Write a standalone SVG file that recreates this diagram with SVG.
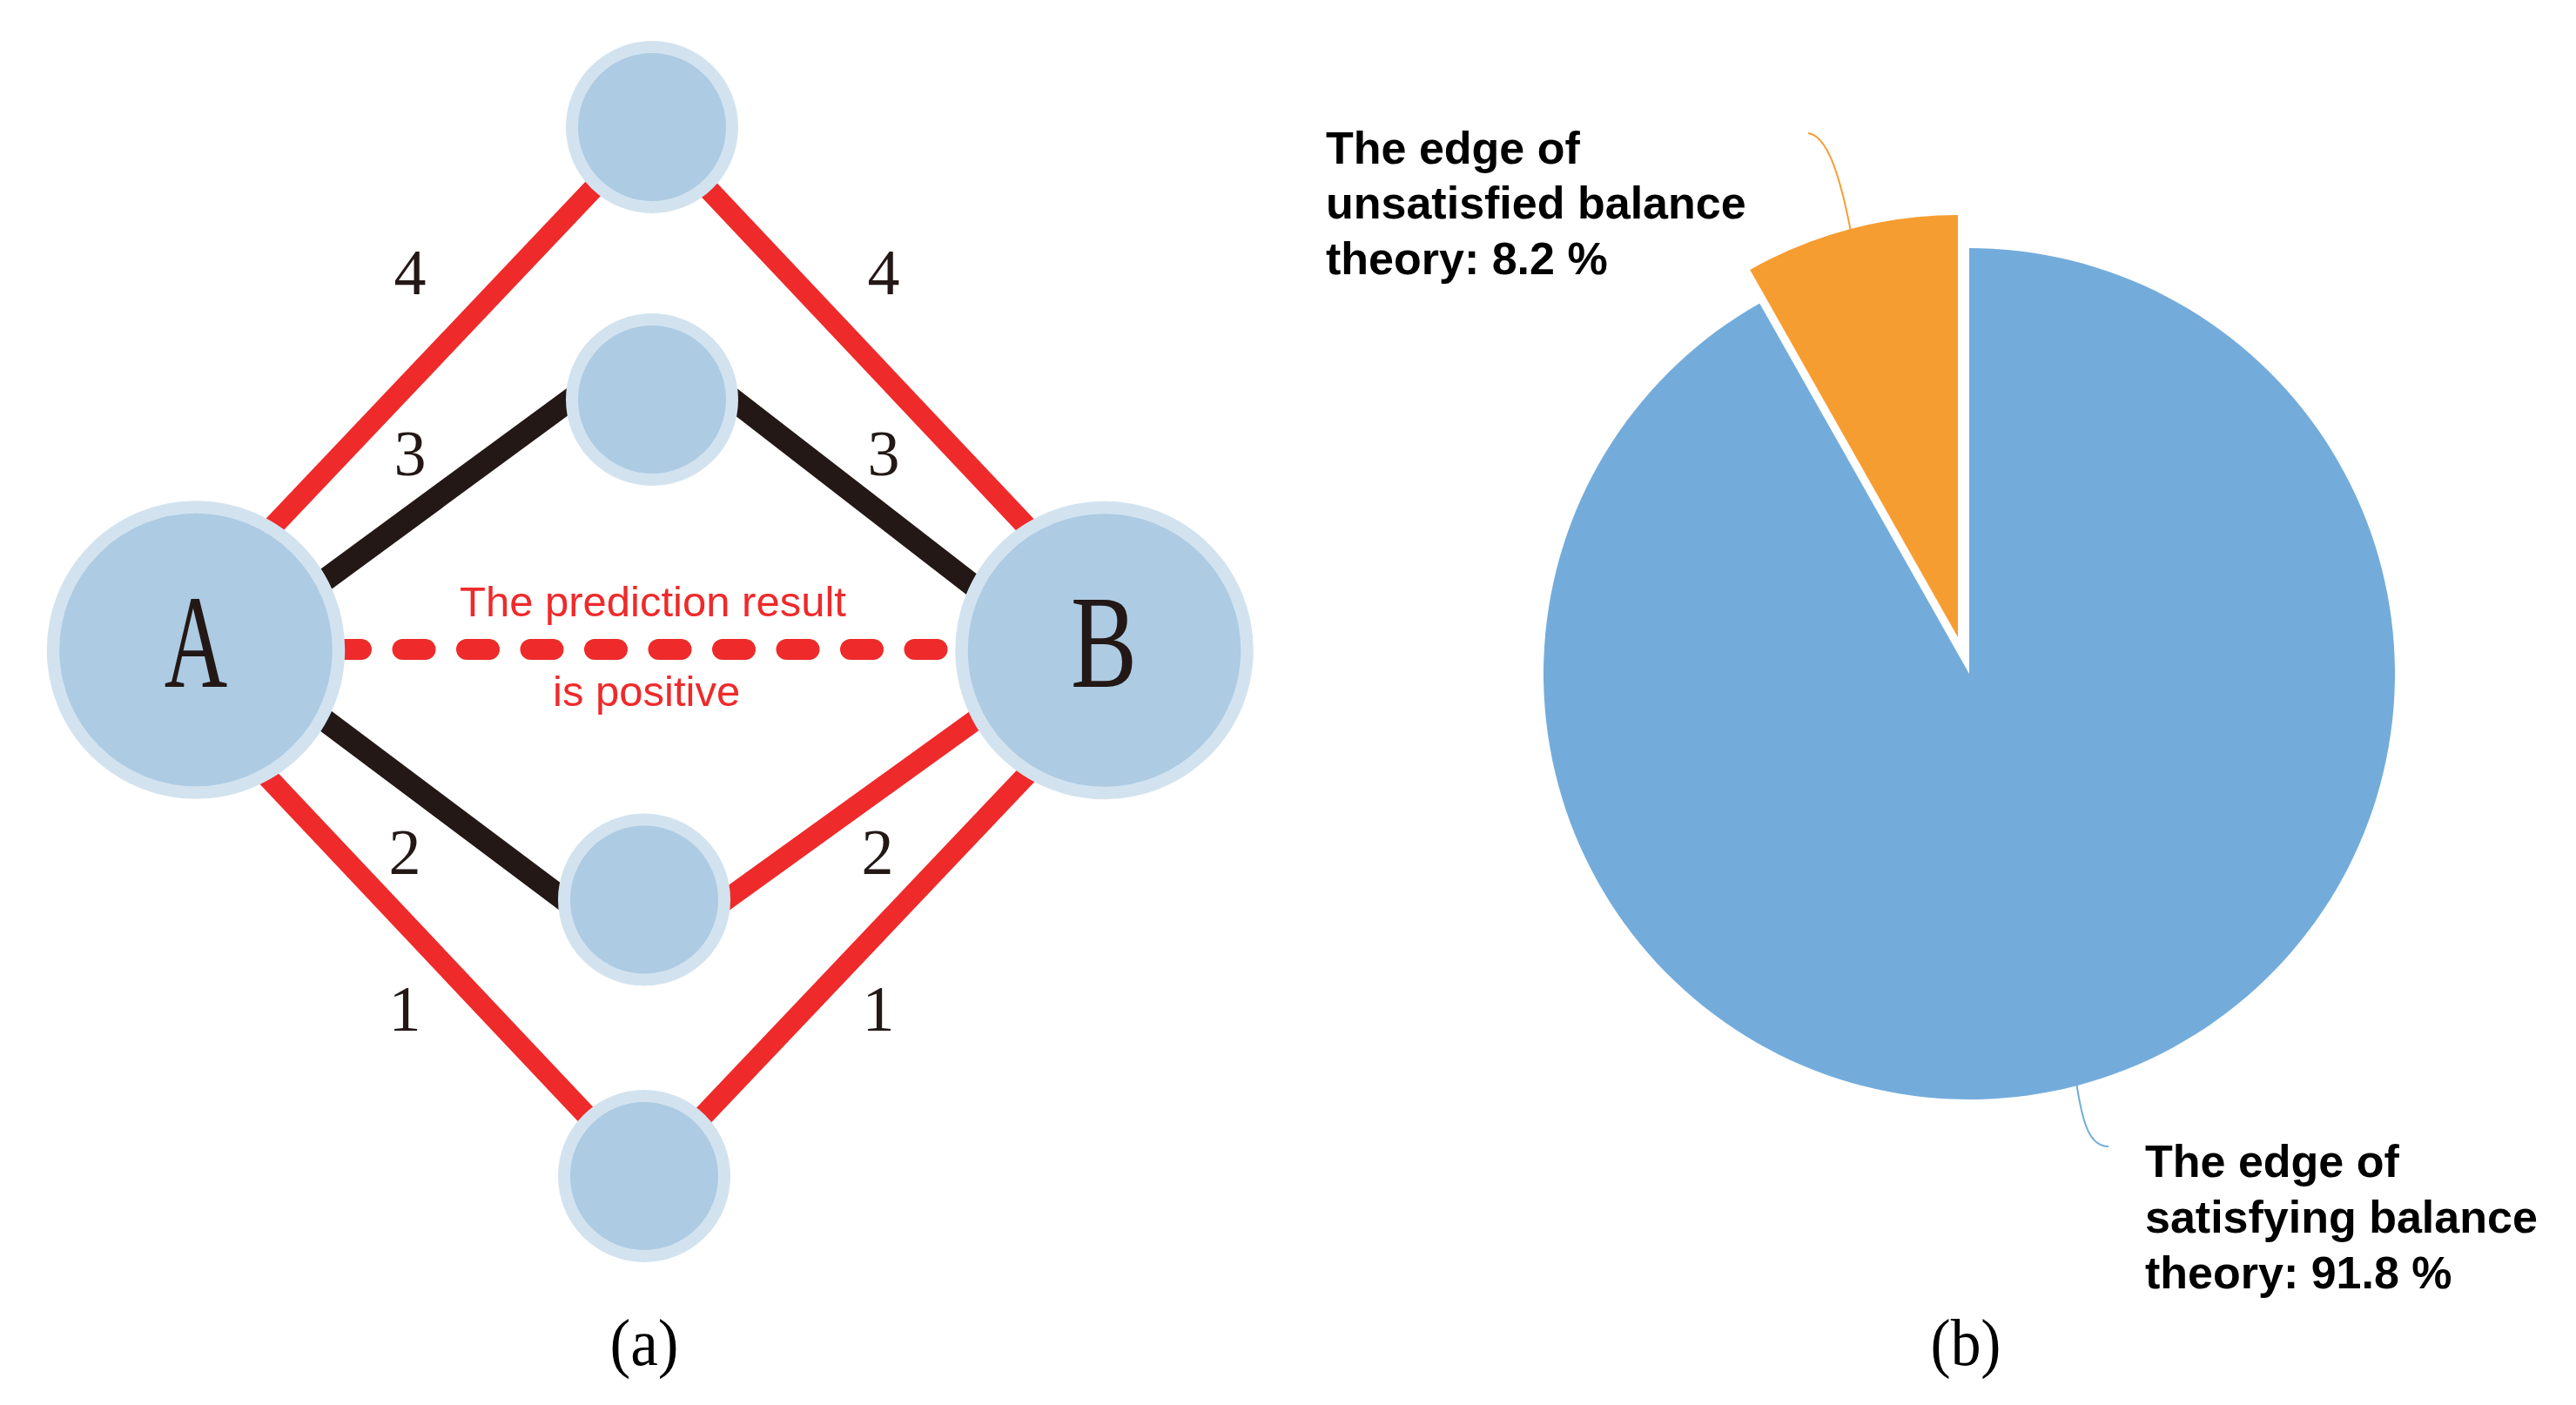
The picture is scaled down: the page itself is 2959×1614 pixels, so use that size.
<svg xmlns="http://www.w3.org/2000/svg" width="2959" height="1614" viewBox="0 0 2959 1614">
<style>
.red{stroke:#EE2A2B;stroke-width:24;fill:none}
.blk{stroke:#231815;stroke-width:26;fill:none}
.dash{stroke:#EE2A2B;stroke-width:24;fill:none;stroke-linecap:round;stroke-dasharray:26 47.5}
.big{fill:#ADCBE2;stroke:#D2E3EF;stroke-width:14.5}
.small{fill:#ADCBE2;stroke:#D2E3EF;stroke-width:14}
.letter{font-family:"Liberation Serif","Times New Roman",serif;font-size:152px;fill:#231815;text-anchor:middle}
.num{font-family:"Liberation Serif","Times New Roman",serif;font-size:74px;fill:#231815;text-anchor:middle}
.cap{font-family:"Liberation Serif","Times New Roman",serif;font-size:76px;fill:#000;text-anchor:middle}
.rtxt{font-family:"Liberation Sans",Arial,sans-serif;font-size:49px;fill:#EE2A2B}
.lbl{font-family:"Liberation Sans",Arial,sans-serif;font-size:52px;font-weight:bold;fill:#000}
</style>
<rect width="2959" height="1614" fill="#fff"/>
<g id="connectors">
<line class="red" x1="299" y1="620" x2="706.7" y2="190"/>
<line class="red" x1="788" y1="190" x2="1193.6" y2="620"/>
<line class="red" x1="295.4" y1="880" x2="701" y2="1310"/>
<line class="red" x1="1189" y1="880" x2="781" y2="1310"/>
<line class="blk" x1="300" y1="720" x2="720" y2="411.5"/>
<line class="blk" x1="780" y1="411" x2="1190" y2="728.5"/>
<line class="blk" x1="300" y1="772.5" x2="720" y2="1087.5"/>
<line class="red" x1="760" y1="1087" x2="1190" y2="777"/>
<path class="dash" d="M389,746 H1100"/>
</g>
<g id="edge-labels">
<text class="num" x="471" y="338">4</text>
<text class="num" x="1015" y="338">4</text>
<text class="num" x="471" y="546">3</text>
<text class="num" x="1015" y="546">3</text>
<text class="num" x="465" y="1004">2</text>
<text class="num" x="1008" y="1004">2</text>
<text class="num" x="465" y="1184">1</text>
<text class="num" x="1009" y="1184">1</text>
</g>
<g id="prediction-label">
<text class="rtxt" x="528" y="708">The prediction result</text>
<text class="rtxt" x="635" y="811">is positive</text>
</g>
<g id="node-A">
<circle class="big" cx="225" cy="746.5" r="164"/>
<text class="letter" transform="translate(225,789) scale(0.66,1)">A</text>
</g>
<g id="node-B">
<circle class="big" cx="1268.5" cy="747" r="164"/>
<text class="letter" transform="translate(1268,789) scale(0.75,1)">B</text>
</g>
<g id="node-top">
<circle class="small" cx="749" cy="146" r="92"/>
</g>
<g id="node-midtop">
<circle class="small" cx="749" cy="459" r="92"/>
</g>
<g id="node-midbottom">
<circle class="small" cx="740" cy="1033.5" r="92"/>
</g>
<g id="node-bottom">
<circle class="small" cx="740" cy="1351" r="92"/>
</g>
<text class="cap" x="740" y="1568" textLength="79" lengthAdjust="spacingAndGlyphs">(a)</text>
<g id="pie">
<path d="M2262,774 L2262,285 A489,489 0 1 1 2021.2,348.4 Z" fill="#73ACDB"/>
<path d="M2249,732 L2010.2,309.9 A485,485 0 0 1 2249,247 Z" fill="#F69D32"/>
<path d="M2077,153 C2092,155 2102,175 2110,200 S2122,245 2126,266" fill="none" stroke="#F69D32" stroke-width="2"/>
<path d="M2385,1243 C2392,1290 2400,1317 2422,1317" fill="none" stroke="#73ACDB" stroke-width="2"/>
</g>
<g id="pie-label-orange">
<text class="lbl" x="1523" y="188">The edge of</text>
<text class="lbl" x="1523" y="251">unsatisfied balance</text>
<text class="lbl" x="1523" y="315">theory: 8.2 %</text>
</g>
<g id="pie-label-blue">
<text class="lbl" x="2464" y="1352">The edge of</text>
<text class="lbl" x="2464" y="1416">satisfying balance</text>
<text class="lbl" x="2464" y="1480">theory: 91.8 %</text>
</g>
<text class="cap" x="2258" y="1568" textLength="81" lengthAdjust="spacingAndGlyphs">(b)</text>
</svg>
